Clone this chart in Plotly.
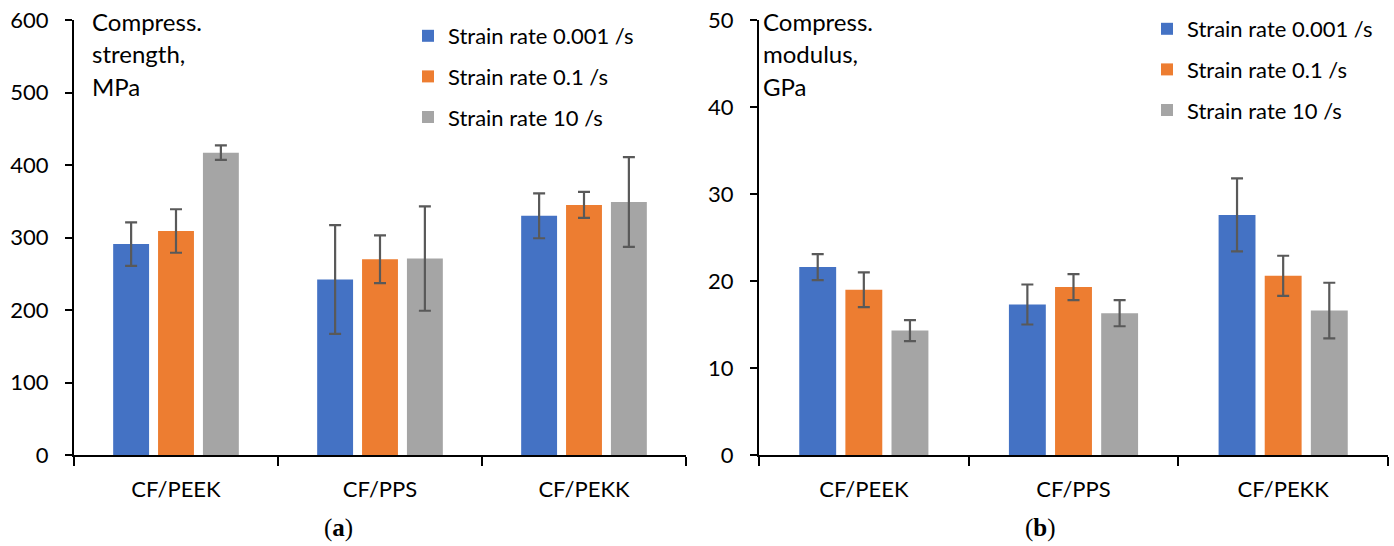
import plotly.graph_objects as go

W, H = 1394, 546

categories = ["CF/PEEK", "CF/PPS", "CF/PEKK"]
series_names = ["Strain rate 0.001 /s", "Strain rate 0.1 /s", "Strain rate 10 /s"]
colors = ["#4472C4", "#ED7D31", "#A5A5A5"]

# (a) Compressive strength, MPa
strength_0001 = [291, 242, 330]
strength_01 = [309, 270, 345]
strength_10 = [417, 271, 349]
strength_err_0001 = [30, 75, 31]
strength_err_01 = [30, 33, 18]
strength_err_10 = [10, 72, 62]

# (b) Compressive modulus, GPa
modulus_0001 = [21.6, 17.3, 27.6]
modulus_01 = [19.0, 19.3, 20.6]
modulus_10 = [14.3, 16.3, 16.6]
modulus_err_0001 = [1.5, 2.3, 4.2]
modulus_err_01 = [2.0, 1.5, 2.3]
modulus_err_10 = [1.2, 1.5, 3.2]

strength_ticks = [0, 100, 200, 300, 400, 500, 600]
modulus_ticks = [0, 10, 20, 30, 40, 50]

FONT = "Lato"
FS = 22
ERRC = "#595959"

def px(x):
    return x / W

def py(y):
    return 1 - y / H

fig = go.Figure()

strength = [strength_0001, strength_01, strength_10]
strength_err = [strength_err_0001, strength_err_01, strength_err_10]
modulus = [modulus_0001, modulus_01, modulus_10]
modulus_err = [modulus_err_0001, modulus_err_01, modulus_err_10]

for i in range(3):
    fig.add_trace(go.Bar(
        x=categories, y=strength[i], name=series_names[i],
        marker=dict(color=colors[i], line=dict(width=0)),
        error_y=dict(type="data", array=strength_err[i], color=ERRC, thickness=2.2, width=6),
        xaxis="x", yaxis="y", legend="legend",
        legendgroup="a%d" % i,
    ))
for i in range(3):
    fig.add_trace(go.Bar(
        x=categories, y=modulus[i], name=series_names[i],
        marker=dict(color=colors[i], line=dict(width=0)),
        error_y=dict(type="data", array=modulus_err[i], color=ERRC, thickness=2.2, width=6),
        xaxis="x2", yaxis="y2", legend="legend2",
        legendgroup="b%d" % i,
    ))

ydom = [py(455), py(20)]
xaxis_common = dict(
    type="category", showline=True, linecolor="black", linewidth=2,
    ticks="outside", tickson="boundaries", ticklen=9, tickwidth=2, tickcolor="black",
    tickfont=dict(family=FONT, size=FS, color="black"), showgrid=False, zeroline=False,
    ticklabelstandoff=14, fixedrange=True, automargin=False,
)
yaxis_common = dict(
    showline=True, linecolor="black", linewidth=2,
    ticks="outside", ticklen=7, tickwidth=2, tickcolor="black",
    tickfont=dict(family=FONT, size=FS, color="black"), showgrid=False, zeroline=False,
    ticklabelstandoff=12, fixedrange=True, domain=ydom, automargin=False,
)

legend_common = dict(
    font=dict(family=FONT, size=FS, color="black"),
    bgcolor="rgba(0,0,0,0)", xanchor="left", yanchor="top",
    tracegroupgap=9, itemclick=False, itemdoubleclick=False,
)

AFS = 24
annotations = []
for j, t in enumerate(["Compress.", "strength,", "MPa"]):
    annotations.append(dict(text=t, x=px(90), y=py(22 + 32 * j), xref="paper", yref="paper",
                            xanchor="left", yanchor="middle", showarrow=False,
                            font=dict(family=FONT, size=AFS, color="black")))
for j, t in enumerate(["Compress.", "modulus,", "GPa"]):
    annotations.append(dict(text=t, x=px(761), y=py(22 + 32 * j), xref="paper", yref="paper",
                            xanchor="left", yanchor="middle", showarrow=False,
                            font=dict(family=FONT, size=AFS, color="black")))
annotations.append(dict(text="(<b>a</b>)", x=px(338), y=py(528), xref="paper", yref="paper",
                        xanchor="center", yanchor="middle", showarrow=False,
                        font=dict(family="Liberation Serif", size=25, color="black")))
annotations.append(dict(text="(<b>b</b>)", x=px(1040), y=py(528), xref="paper", yref="paper",
                        xanchor="center", yanchor="middle", showarrow=False,
                        font=dict(family="Liberation Serif", size=25, color="black")))

fig.update_layout(
    width=W, height=H, margin=dict(l=0, r=0, t=0, b=0, autoexpand=False),
    paper_bgcolor="white", plot_bgcolor="white",
    barmode="group", bargap=0.34, bargroupgap=0.2,
    xaxis=dict(domain=[px(74), px(686)], anchor="y", **xaxis_common),
    yaxis=dict(anchor="x", range=[0, 600], tickvals=strength_ticks, **yaxis_common),
    xaxis2=dict(domain=[px(759), px(1388)], anchor="y2", **xaxis_common),
    yaxis2=dict(anchor="x2", range=[0, 50], tickvals=modulus_ticks, **yaxis_common),
    legend=dict(x=px(408), y=py(15), **legend_common),
    legend2=dict(x=px(1147), y=py(8), **legend_common),
    annotations=annotations,
    showlegend=True,
)

fig.write_html("out.html", config={"displayModeBar": False})
